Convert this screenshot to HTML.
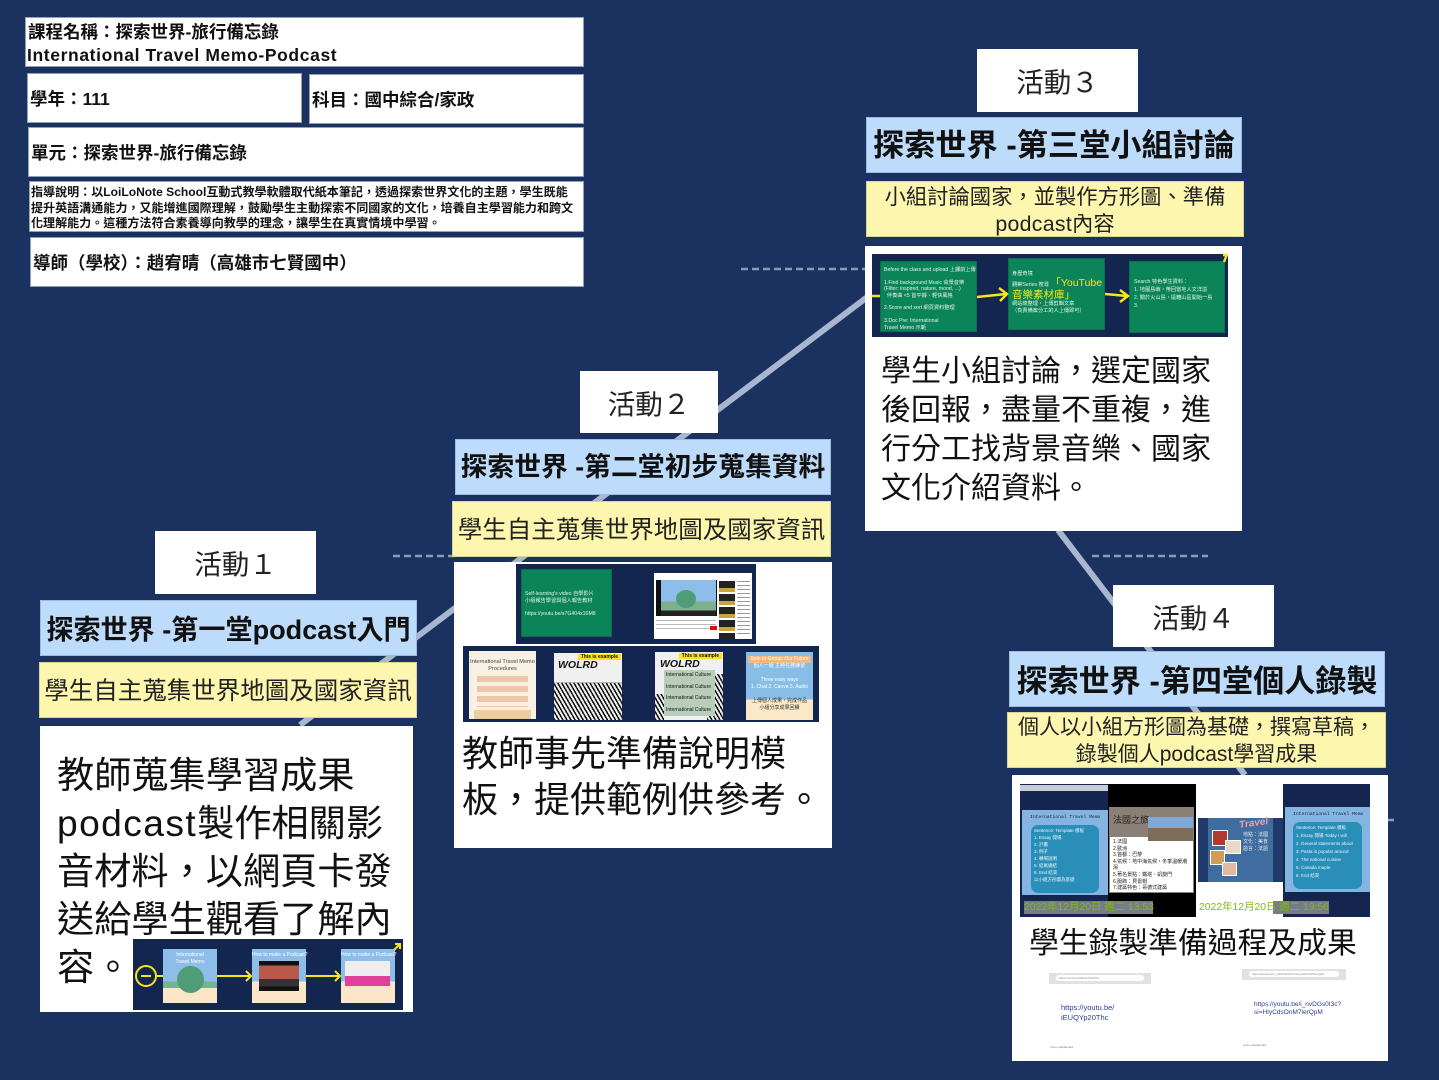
<!DOCTYPE html>
<html lang="zh-Hant"><head><meta charset="utf-8"><title>International Travel Memo-Podcast</title>
<style>
html,body{margin:0;padding:0}
body{width:1439px;height:1080px;background:#1b3160;position:relative;overflow:hidden;font-family:"Liberation Sans","Noto Sans CJK TC",sans-serif;color:#111}
.a{position:absolute;white-space:nowrap;box-sizing:border-box}
.w{background:#fff}
.i{background:#fff;font-size:17.5px;font-weight:700;display:flex;align-items:center;padding-left:2px;border:1px solid #8fa0bd}
.act{background:#fff;font-size:27.5px;display:flex;align-items:center;justify-content:center;color:#222;padding-bottom:1px}
.t{background:#bddcfb;font-size:31px;font-weight:700;display:flex;align-items:center;justify-content:center;border:1px solid #9fb9dc}
.y{background:#fdf6ae;text-align:center;color:#222;border:1px solid #d8d49a}
.b{color:#111}
.n{background:#13264f}
.g{background:#0b8459;color:#e6f3ee;font-size:5.2px;line-height:6.4px;padding:5px;white-space:normal;border:1px solid #0a6f50}
svg{position:absolute;left:0;top:0}
.wolrd{font-size:10.5px;font-weight:700;color:#111;font-style:italic;overflow:hidden}
.tag{position:absolute;right:1px;top:1px;background:#fce21b;font-size:5px;line-height:6px;font-style:normal;padding:0 3px}
.date{color:#7dbb14;font-size:10.4px;line-height:13px}
</style></head><body>

<svg width="1439" height="1080">
<line x1="300" y1="725" x2="870" y2="295" stroke="#a9b6cf" stroke-width="6"/>
<line x1="1058" y1="530" x2="1245" y2="775" stroke="#a9b6cf" stroke-width="6"/>
<g stroke="#8d9ab5" stroke-width="2.5" stroke-dasharray="7 4">
<line x1="741" y1="269" x2="866" y2="269"/>
<line x1="393" y1="556" x2="455" y2="556"/>
<line x1="1092" y1="556" x2="1208" y2="556"/>
<line x1="1388" y1="820" x2="1394" y2="820"/>
</g>
</svg>

<div class="a i" style="left:25px;top:17px;width:559px;height:50px;display:block;padding:3px 0 0 2px;line-height:23px">課程名稱：探索世界-旅行備忘錄<br><span style="letter-spacing:.62px;margin-left:-1px">International Travel Memo-Podcast</span></div>
<div class="a i" style="left:27px;top:73px;width:275px;height:50px">學年：111</div>
<div class="a i" style="left:309px;top:74px;width:275px;height:50px">科目：國中綜合/家政</div>
<div class="a i" style="left:28px;top:127px;width:556px;height:50px">單元：探索世界-旅行備忘錄</div>
<div class="a i" style="left:29px;top:181px;width:555px;height:51px;display:block;font-size:12.05px;line-height:15.5px;padding:3px 0 0 1px">指導說明：以LoiLoNote School互動式教學軟體取代紙本筆記，透過探索世界文化的主題，學生既能<br>提升英語溝通能力，又能增進國際理解，鼓勵學生主動探索不同國家的文化，培養自主學習能力和跨文<br>化理解能力。這種方法符合素養導向教學的理念，讓學生在真實情境中學習。</div>
<div class="a i" style="left:30px;top:237px;width:554px;height:50px">導師（學校）：趙宥晴（高雄市七賢國中）</div>

<!-- Activity 3 -->
<div class="a act" style="left:977px;top:49px;width:161px;height:63px">活動３</div>
<div class="a t" style="left:866px;top:117px;width:376px;height:56px;padding-bottom:5px;font-size:31.2px">探索世界 -第三堂小組討論</div>
<div class="a y" style="left:866px;top:181px;width:378px;height:56px;font-size:21.3px;line-height:27px;padding-top:2px">小組討論國家，並製作方形圖、準備<br><span style="letter-spacing:.3px">podcast</span>內容</div>
<div class="a w" style="left:865px;top:246px;width:377px;height:285px"></div>
<div class="a b" style="left:881px;top:352px;font-size:30px;line-height:39px">學生小組討論，選定國家<br>後回報，盡量不重複，進<br>行分工找背景音樂、國家<br>文化介紹資料。</div>
<div class="a n" style="left:872px;top:254px;width:356px;height:83px"></div>
<div class="a g" style="left:880px;top:261px;width:97px;height:71px;padding:5px 3px 0;white-space:nowrap;overflow:hidden">Before the class and upload 上課前上傳<br><br>1.Find background Music 背景音樂<br>(Filter: inspired, nature, mood, ...)<br>&nbsp;&nbsp;伴奏曲 &lt;5 首平靜、輕快風格<br><br>2.Score and sort 網頁資料整理<br><br>3.Doc Pre: International<br>Travel Memo 示範</div>
<div class="a g" style="left:1008px;top:258px;width:97px;height:72px;padding:12px 3px 0;overflow:hidden;white-space:nowrap">身歷奇境<br>觀察Series 搜尋 <span style="color:#f7e718;font-size:10.5px;line-height:12px">「YouTube<br>音樂素材庫」</span><br>網站總整理，上傳剪輯文章<br>（負責備案分工的人上傳即可）</div>
<div class="a g" style="left:1129px;top:261px;width:96px;height:72px;padding:16px 4px 0;line-height:8px;overflow:hidden">Search 特色學生資料：<br>1. 地圖島嶼，帶回當地人文洋溢<br>2. 關於火山島，遠離山區開始一島<br>3.</div>
<svg width="1439" height="1080">
<g fill="none" stroke="#f9e51a" stroke-width="2.4">
<path d="M872 296H880M977 297L1006 294M999 288L1007 294L1000 301"/>
<path d="M1105 294L1127 296M1120 290L1128 296L1120 302"/>
<path d="M1224 262L1227 254M1223 255H1228"/>
</g>
<g stroke="#f9e51a" stroke-width="2" fill="none">
<path d="M516 603H521M612 602L650 606M644 600L652 606L645 612"/>
<path d="M463 685H469M536 685L553 686M548 681L554 686L548 691"/>
<path d="M622 686L654 686M649 681L655 686L649 691"/>
<path d="M723 686L745 685M740 680L746 685L740 690"/>
<path d="M813 652L818 647M813 647H818V652"/>
<path d="M703 643L702 646M745 643V647"/>
</g>
</svg>

<!-- Activity 2 -->
<div class="a act" style="left:580px;top:371px;width:138px;height:62px">活動２</div>
<div class="a t" style="left:455px;top:439px;width:376px;height:56px;font-size:26.8px;padding-bottom:5px">探索世界 -第二堂初步蒐集資料</div>
<div class="a y" style="left:452px;top:501px;width:379px;height:56px;font-size:24.5px;line-height:58px">學生自主蒐集世界地圖及國家資訊</div>
<div class="a w" style="left:454px;top:562px;width:378px;height:286px"></div>
<div class="a b" style="left:462px;top:731px;font-size:36px;line-height:46px">教師事先準備說明模<br>板，提供範例供參考。</div>
<div class="a n" style="left:516px;top:564px;width:240px;height:80px;z-index:0"></div>
<div class="a g" style="left:521px;top:569px;width:91px;height:68px;padding:21px 3px 0;z-index:1;font-size:5.2px;line-height:6.8px">Self-learning's video 自學影片<br>小組報告學習與個人報告教材<br><br>https://youtu.be/s7G404x16M8</div>
<div class="a w" style="left:654px;top:573px;width:98px;height:66px;z-index:1"></div>
<div class="a" style="left:656px;top:580px;width:61px;height:36px;background:linear-gradient(#8dbde9 0 60%,#7fb08a 60% 85%,#222 85%);border-left:5px solid #111;border-right:1px solid #111;z-index:1"></div>
<div class="a" style="left:676px;top:590px;width:20px;height:18px;border-radius:50%;background:#4f9c77;z-index:2"></div>
<div class="a" style="left:719px;top:581px;width:16px;height:58px;background:repeating-linear-gradient(#222 0 7px,#c8a53c 7px 11px,#fff 11px 13px);z-index:1"></div>
<div class="a" style="left:737px;top:581px;width:13px;height:55px;background:repeating-linear-gradient(#999 0 1px,#fff 1px 4px);z-index:1"></div>
<div class="a" style="left:656px;top:620px;width:60px;height:12px;background:repeating-linear-gradient(#bbb 0 1px,#fff 1px 4px);z-index:1"></div>
<div class="a" style="left:710px;top:626px;width:7px;height:4px;background:#d11;z-index:1"></div>
<div class="a n" style="left:463px;top:646px;width:356px;height:76px;z-index:0"></div>
<div class="a" style="left:469px;top:651px;width:67px;height:68px;background:#f8f1e3;font-size:5.6px;line-height:7px;text-align:center;color:#444;z-index:1;padding-top:8px;overflow:hidden">International Travel Memo<br>Procedures<div style="margin:3px 8px;height:31px;background:repeating-linear-gradient(#eec5a9 0 6px,#f8f1e3 6px 10px)"></div><div style="margin:0 5px;height:9px;background:#eccf9e"></div></div>
<div class="a wolrd" style="left:554px;top:653px;width:68px;height:67px;background:linear-gradient(#f0f0f0 0 44%,#777 44% 100%);z-index:1;padding:6px 0 0 4px">WOLRD<span class="tag">This is example</span><div style="position:absolute;left:0;right:0;bottom:0;height:37px;background:repeating-linear-gradient(60deg,#111 0 1.5px,#eee 1.5px 3.5px)"></div></div>
<div class="a wolrd" style="left:655px;top:652px;width:68px;height:68px;background:linear-gradient(#f0f0f0 0 100%);z-index:1;padding:6px 0 0 5px">WOLRD<span class="tag">This is example</span><div style="position:absolute;left:52px;right:0;top:22px;bottom:0;background:repeating-linear-gradient(60deg,#111 0 1.5px,#eee 1.5px 3.5px)"></div><div style="position:absolute;left:0;width:9px;top:42px;bottom:0;background:repeating-linear-gradient(60deg,#111 0 1.5px,#eee 1.5px 3.5px)"></div><div style="position:absolute;left:9px;top:18px;width:49px;height:46px;background:#b9cdbb;font-size:5px;line-height:11.5px;font-style:normal;font-weight:400;padding-left:2px">International Culture<br>International Culture<br>International Culture<br>International Culture</div></div>
<div class="a" style="left:746px;top:652px;width:67px;height:68px;background:linear-gradient(#88bde6 0 70%,#fbe8c6 70%);z-index:1;font-size:5px;line-height:7px;color:#fff;text-align:center;padding-top:4px;overflow:hidden"><div style="background:#f2b77e;margin:0 2px">Solo or Group: Our Future</div>個人一組 主題任務練習<br><br>Three easy ways<br>1. Chat  2. Canva  3. Audio<br><br><span style="color:#333">上傳個人成果，完成作品<br>小組分享成果回饋</span></div>

<!-- Activity 1 -->
<div class="a act" style="left:155px;top:531px;width:161px;height:63px">活動１</div>
<div class="a t" style="left:40px;top:600px;width:377px;height:56px;font-size:27.1px;padding-bottom:2px">探索世界 -第一堂podcast入門</div>
<div class="a y" style="left:39px;top:662px;width:378px;height:56px;font-size:24.5px;line-height:57px">學生自主蒐集世界地圖及國家資訊</div>
<div class="a w" style="left:40px;top:726px;width:373px;height:286px"></div>
<div class="a b" style="left:57px;top:751px;font-size:37.2px;line-height:48px">教師蒐集學習成果<br><span style="letter-spacing:1.4px">podcast</span>製作相關影<br>音材料，以網頁卡發<br>送給學生觀看了解內<br>容。</div>
<div class="a n" style="left:133px;top:939px;width:270px;height:71px"></div>
<div class="a" style="left:163px;top:949px;width:54px;height:54px;background:linear-gradient(#8dbde9 0 60%,#75b48f 60% 72%,#fbe6c8 72%);font-size:5px;line-height:7px;color:#fff;text-align:center;padding-top:3px">International<br>Travel Memo</div>
<div class="a" style="left:177px;top:966px;width:27px;height:27px;border-radius:50%;background:#4f9c77"></div>
<div class="a" style="left:252px;top:949px;width:54px;height:54px;background:linear-gradient(#8dbde9 0 60%,#fbe6c8 60%);font-size:5px;line-height:7px;color:#fff;text-align:center;padding-top:3px">How to make a Podcast?</div>
<div class="a" style="left:259px;top:961px;width:40px;height:30px;background:linear-gradient(#111 0 15%,#b85a4a 15% 60%,#333 60% 85%,#111 85%)"></div>
<div class="a" style="left:341px;top:949px;width:54px;height:54px;background:linear-gradient(#8dbde9 0 60%,#fbe6c8 60%);font-size:5px;line-height:7px;color:#fff;text-align:center;padding-top:3px">How to make a Podcast?</div>
<div class="a" style="left:345px;top:961px;width:45px;height:25px;background:linear-gradient(#eee 0 60%,#e0409a 60%)"></div>
<svg width="1439" height="1080">
<g fill="none" stroke="#f9e51a" stroke-width="2">
<circle cx="146" cy="976" r="10"/>
<path d="M141 976H151M156 976H163M217 976H250M246 971L251 976L246 981M306 976H339M335 971L340 976L335 981"/>
<path d="M394 950L400 944M395 944H400V949"/>
</g>
</svg>

<!-- Activity 4 -->
<div class="a act" style="left:1113px;top:585px;width:161px;height:62px">活動４</div>
<div class="a t" style="left:1009px;top:651px;width:376px;height:56px;font-size:31.1px;padding-bottom:2px">探索世界 -第四堂個人錄製</div>
<div class="a y" style="left:1007px;top:712px;width:379px;height:56px;font-size:21px;line-height:27px;padding-top:1px">個人以小組方形圖為基礎，撰寫草稿，<br>錄製個人podcast學習成果</div>
<div class="a w" style="left:1012px;top:775px;width:376px;height:286px"></div>
<div class="a b" style="left:1029px;top:925px;font-size:29.8px;line-height:38px">學生錄製準備過程及成果</div>

<div class="a" style="left:1020px;top:784px;width:88px;height:133px;background:#14264f"></div>
<div class="a" style="left:1020px;top:785px;width:88px;height:6px;background:#c9ccd6"></div>
<div class="a" style="left:1022px;top:810px;width:86px;height:85px;background:#84b5e2"></div>
<div class="a" style="left:1031px;top:825px;width:68px;height:68px;background:#2a8fb8;border-radius:7px;font-size:4.5px;line-height:7px;color:#e9f5fa;padding:2px 3px;white-space:normal">Sentence: Template 模板<br>1. Essay 開場<br>2. 計畫<br>3. 例子<br>4. 轉場說明<br>5. 結尾總結<br>6. End 結束<br>以小組方形圖為基礎</div>
<div class="a" style="left:1030px;top:815px;font-size:4.7px;font-family:'Liberation Mono',monospace;color:#123">International Travel Memo</div>
<div class="a" style="left:1108px;top:784px;width:88px;height:133px;background:#000"></div>
<div class="a" style="left:1109px;top:807px;width:85px;height:86px;background:#fff;border:1px solid #8a8078;font-size:5px;line-height:6.6px;color:#222;overflow:hidden"><div style="background:#8a8078;color:#222;height:23px;padding:6px 0 0 3px;font-size:9px;line-height:12px">法國之旅</div><div style="padding:11px 2px 0 3px;white-space:normal;margin-top:-9px">1.法國<br>2.歐洲<br>3.首都：巴黎<br>4.氣候：地中海氣候，冬季溫暖潮濕<br>5.著名景點：鐵塔、凱旋門<br>6.服飾：貝雷帽<br>7.建築特色：哥德式建築</div></div>
<div class="a" style="left:1148px;top:817px;width:45px;height:24px;background:linear-gradient(#7fa9d8 0 45%,#7c6e58 45%)"></div>
<div class="a w" style="left:1198px;top:784px;width:85px;height:133px"></div>
<div class="a" style="left:1198px;top:818px;width:85px;height:64px;background:#1f3a6b"></div>
<div class="a" style="left:1208px;top:818px;width:65px;height:64px;background:#3f6da0;color:#e8eef5;font-size:5px;line-height:7px;padding:14px 0 0 35px;white-space:normal">地點：法國<br>文化：美食<br>語言：法語</div>
<div class="a" style="left:1212px;top:830px;width:16px;height:16px;background:#b33b2d;border:1px solid #fff"></div>
<div class="a" style="left:1225px;top:840px;width:16px;height:14px;background:#e8d8c8;border:1px solid #fff"></div>
<div class="a" style="left:1210px;top:850px;width:15px;height:15px;background:#cf9d58;border:1px solid #fff"></div>
<div class="a" style="left:1222px;top:862px;width:15px;height:14px;background:#e0b9a0;border:1px solid #fff"></div>
<div class="a" style="left:1239px;top:818px;font-size:10px;font-style:italic;color:#f3a0a0;font-weight:700;transform:rotate(-8deg)">Travel</div>
<div class="a" style="left:1283px;top:784px;width:87px;height:133px;background:#14264f"></div>
<div class="a" style="left:1285px;top:807px;width:85px;height:85px;background:#84b5e2"></div>
<div class="a" style="left:1293px;top:822px;width:69px;height:67px;background:#2a8fb8;border-radius:7px;font-size:4.5px;line-height:8px;color:#e9f5fa;padding:2px 3px;white-space:normal;overflow:hidden">Sentence: Template 模板<br>1. Essay 開場 Today I will<br>2. General statements about<br>3. Pasta is popular around<br>4. The national cuisine<br>5. Canada maple<br>6. End 結束</div>
<div class="a" style="left:1293px;top:812px;font-size:4.7px;font-family:'Liberation Mono',monospace;color:#123">International Travel Memo</div>
<div class="a date" style="left:1024px;top:901px;width:129px;height:13px;background:#777c86">2022年12月20日 週二 13:53</div>
<div class="a date" style="left:1199px;top:901px;width:130px;height:13px;background:linear-gradient(90deg,#fff 0 57%,#777c86 57%)">2022年12月20日 週二 13:56</div>

<div class="a" style="left:1049px;top:973px;width:102px;height:11px;background:#dfe1e6"><div style="margin:2px 7px;height:6px;background:#fff;border-radius:3px;font-size:3px;line-height:6px;color:#888;padding-left:3px">https://youtu.be/iEUQYp20Thc</div></div>
<div class="a" style="left:1242px;top:969px;width:104px;height:11px;background:#dfe1e6"><div style="margin:2px 7px;height:6px;background:#fff;border-radius:3px;font-size:3px;line-height:6px;color:#888;padding-left:3px">https://youtu.be/i_nvDGs0I3c?si=HIyCdsOnM7lerQpM</div></div>
<div class="a" style="left:1061px;top:1003px;font-size:7.5px;line-height:9.5px;color:#2a3d96">https://youtu.be/<br>iEUQYp20Thc</div>
<div class="a" style="left:1254px;top:1001px;font-size:6.5px;line-height:8px;color:#2a3d96">https://youtu.be/i_nvDGs0I3c?<br>si=HIyCdsOnM7lerQpM</div>
<div class="a" style="left:1050px;top:1045px;font-size:3px;color:#777">LoiLo pasteboard</div>
<div class="a" style="left:1243px;top:1043px;font-size:3px;color:#777">LoiLo pasteboard</div>
</body></html>
